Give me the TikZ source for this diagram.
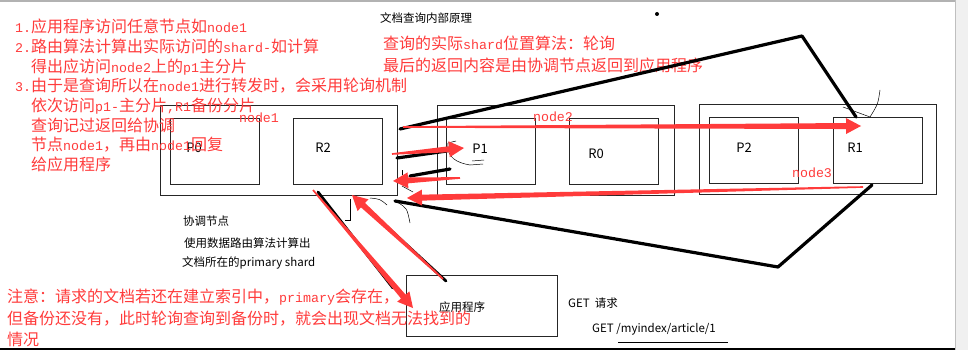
\documentclass[tikz,border=0pt]{standalone}
\usepackage{fontspec}
\usepackage{tikz}
\usetikzlibrary{calc}
\usepackage{xcolor}
\newfontfamily\cjk{Noto Sans CJK SC}
\newfontfamily\enmono{Liberation Mono}
\definecolor{annored}{RGB}{255,59,59}
\newcommand{\en}[1]{{\enmono\fontsize{13.3}{19.7}\selectfont #1}}
\tikzstyle{hostbox} = [draw=black!85, line width=0.8pt, minimum width=237pt,
    minimum height=90pt, inner sep=0]
\tikzstyle{shardbox} = [draw=black!85, line width=0.8pt, minimum width=89pt,
    minimum height=66pt, inner sep=0]
\tikzstyle{shardname} = [font=\cjk\fontsize{13}{13}\selectfont, inner sep=0]
\tikzstyle{hostname} = [text=annored, font=\enmono\fontsize{13.3}{13.3}\selectfont, inner sep=0]
\tikzstyle{note} = [text=annored, font=\cjk\fontsize{16}{19.7}\selectfont,
    align=left, anchor=north west, inner sep=0]
\tikzstyle{caption} = [font=\cjk\fontsize{11.5}{12}\selectfont, anchor=west, inner sep=0]
\tikzstyle{pen} = [line width=3.2pt, line cap=round, line join=round]
\tikzstyle{hairline} = [line width=0.5pt]
% red arrow: thin tail, wide shaft at the head
\newcommand{\fatarrow}[2]{%
    \path (#2) coordinate (arrowtip) ($(#2)!15pt!(#1)$) coordinate (arrowbase);
    \fill[annored] ($(#1)!0.8pt!90:(#2)$) -- ($(arrowbase)!3pt!90:(arrowtip)$)
        -- ($(arrowbase)!8pt!90:(arrowtip)$) -- (arrowtip)
        -- ($(arrowbase)!8pt!-90:(arrowtip)$) -- ($(arrowbase)!3pt!-90:(arrowtip)$)
        -- ($(#1)!0.8pt!-90:(#2)$) -- cycle;
}

\begin{document}
\begin{tikzpicture}[x=1pt, y=-1pt]
    \useasboundingbox (0,0) rectangle (968,350);
    \fill[white] (0,0) rectangle (968,350);
    \draw[gray!60, line width=1.5pt] (0,1) -- (968,1);
    \fill[gray!12] (955,0) rectangle (968,350);
    \draw[gray!50] (955,0) -- (955,350);
    \draw[line width=2pt] (0,349) -- (955,349);

    \node[hostbox] (node1) at (278.5,150) {};
    \node[shardbox] (P0) at (215,151) {};
    \node[shardbox] (R2) at (338,151) {};
    \node[hostbox] (node2) at (555.5,150) {};
    \node[shardbox] (P1) at (491,151) {};
    \node[shardbox] (R0) at (614,151) {};
    \node[hostbox] (node3) at (818,149) {};
    \node[shardbox] (P2) at (753.5,150) {};
    \node[shardbox] (R1) at (878,150) {};
    \node[draw=black!85, line width=0.8pt, minimum width=151pt, minimum height=61pt,
        inner sep=0] (app) at (481.5,305.5) {};

    \node[shardname] (P0name) at (194,148) {P0};
    \node[shardname] (R2name) at (323,148) {R2};
    \node[shardname] (P1name) at (480,149) {P1};
    \node[shardname] (R0name) at (596,154) {R0};
    \node[shardname] (P2name) at (744,148) {P2};
    \node[shardname] (R1name) at (855,148) {R1};
    \node[caption] (appname) at (439,307) {应用程序};

    \node[hostname] (node1name) at (259,118) {node1};
    \node[hostname] (node2name) at (553,117) {node2};
    \node[hostname] (node3name) at (812,173) {node3};

    \node[caption] (title) at (380,18) {文档查询内部原理};
    \node[caption] (coord1) at (183,221) {协调节点};
    \node[caption] (coord2) at (184,243) {使用数据路由算法计算出};
    \node[caption] (coord3) at (182,263) {文档所在的primary shard};
    \node[caption] (getreq) at (568,303) {GET\ \ 请求};
    \node[caption] (getpath) at (592,329) {GET /myindex/article/1};
    \draw[hairline] (618,342) -- (728,342);
    \fill (657,14) circle (2pt);

    \node[note] (steps) at (15,19) {%
        \en{1.}应用程序访问任意节点如\en{node1}\\
        \en{2.}路由算法计算出实际访问的\en{shard-}如计算\\
        \hspace*{16pt}得出应访问\en{node2}上的\en{p1}主分片\\
        \en{3.}由于是查询所以在\en{node1}进行转发时，会采用轮询机制\\
        \hspace*{16pt}依次访问\en{p1-}主分片\en{,R1}备份分片\\
        \hspace*{16pt}查询记过返回给协调\\
        \hspace*{16pt}节点\en{node1}，再由\en{node1}回复\\
        \hspace*{16pt}给应用程序};
    \node[note, font=\cjk\fontsize{16}{22}\selectfont] (rule) at (383,36) {%
        查询的实际\en{shard}位置算法：轮询\\
        最后的返回内容是由协调节点返回到应用程序};
    \node[note, font=\cjk\fontsize{16}{21.5}\selectfont] (warning) at (7,289) {%
        注意：请求的文档若还在建立索引中，\en{primary}会存在，\\
        但备份还没有，此时轮询查询到备份时，就会出现文档无法找到的\\
        情况};

    \draw[pen] (400,129) -- (802,36) -- (856,117);
    \draw[pen] (872,185) -- (778,267) -- (395,201);
    \draw[pen] (397,158) -- (447,151);
    \draw[pen] (410,176) -- (450,169);
    \draw[pen, line width=2.8pt] (358,200) -- (446,281);
    \draw[pen, line width=2.8pt] (318,192) -- (393,288);

    \draw[hairline] (456,141) -- (448,143) .. controls (446,158) and (458,163) .. (470,165)
        -- (483,164);
    \draw[hairline] (472,161) -- (484,160);
    \draw[hairline] (402,170) -- (402,175);
    \draw[hairline] (402,186) -- (413,192);
    \draw[hairline] (350,199) -- (350,220) -- (345,220);
    \draw[hairline] (370,198) .. controls (380,199) .. (387,205);
    \draw[hairline] (397,202) .. controls (407,208) .. (410,223);
    \draw[hairline] (843,107) -- (870,117);
    \draw[hairline] (880,90) .. controls (878,104) .. (870,117);

    \coordinate (toR1from) at (403,127);
    \coordinate (toR1) at (861,126);
    \coordinate (toP1from) at (392,154);
    \coordinate (toP1) at (464,148);
    \coordinate (fromP1) at (460,178);
    \coordinate (backP1) at (393,181);
    \coordinate (fromR1) at (863,187);
    \coordinate (backR1) at (407,198);
    \coordinate (fromApp) at (443,279);
    \coordinate (intoN1) at (352,195);
    \coordinate (fromN1) at (313,190);
    \coordinate (intoApp) at (413,308);
    \fatarrow{toR1from}{toR1}
    \fatarrow{toP1from}{toP1}
    \fatarrow{fromP1}{backP1}
    \fatarrow{fromR1}{backR1}
    \fatarrow{fromApp}{intoN1}
    \fatarrow{fromN1}{intoApp}
\end{tikzpicture}
\end{document}
